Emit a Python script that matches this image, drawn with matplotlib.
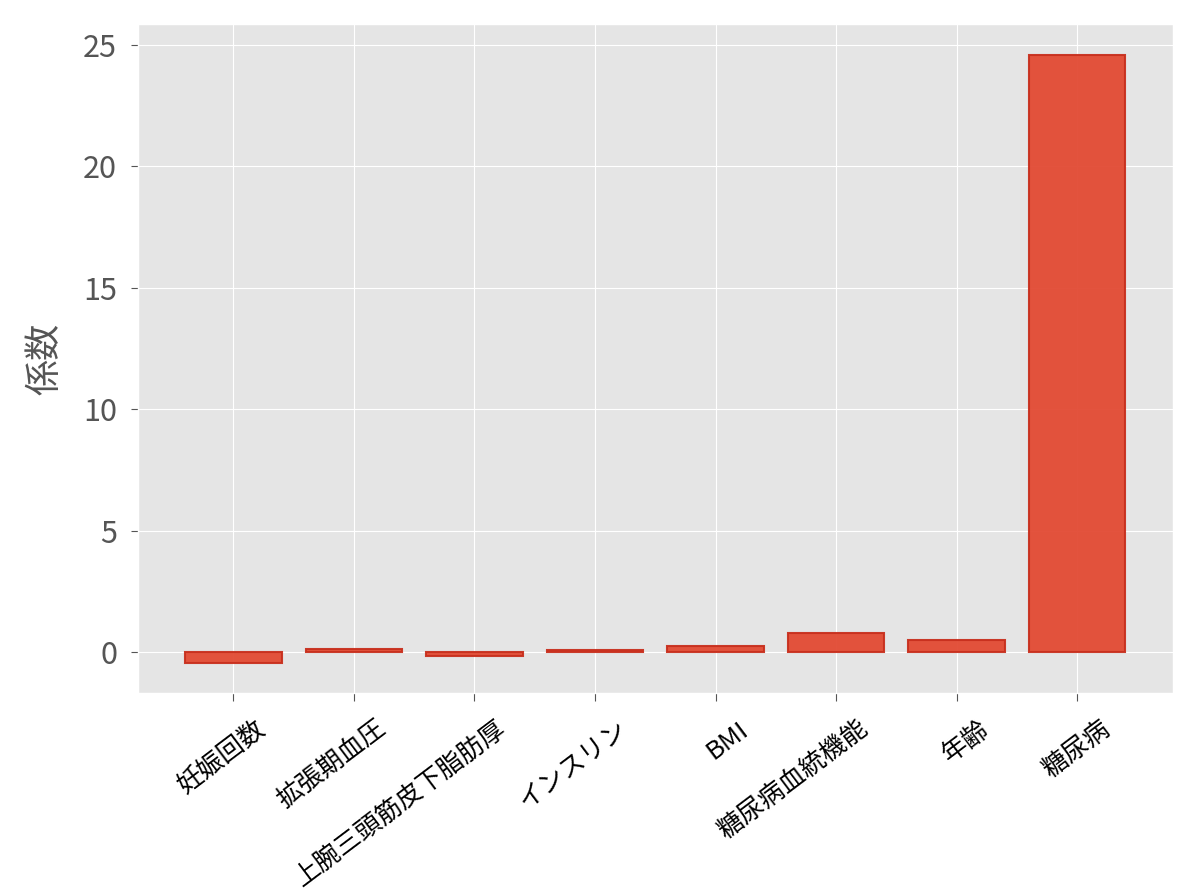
import matplotlib
matplotlib.use('Agg')
import matplotlib.pyplot as plt
import matplotlib.transforms as mtransforms
import numpy as np

plt.style.use('ggplot')
plt.rcParams['font.family'] = ['Noto Sans CJK JP', 'DejaVu Sans']

features = ['妊娠回数', '拡張期血圧', '上腕三頭筋皮下脂肪厚', 'インスリン', 'BMI',
            '糖尿病血統機能', '年齢', '糖尿病']
coefs = [-0.42, 0.13, -0.17, 0.10, 0.28, 0.78, 0.52, 24.6]

fig = plt.figure(figsize=(11.94, 8.96), dpi=100)
ax = fig.add_axes([0.1156, 0.2266, 0.8664, 0.7464])

x = np.arange(len(features))
ax.bar(x, coefs, width=0.8, color='#E24A33', edgecolor='#C8301E', linewidth=1.5, alpha=0.95)

ax.tick_params(axis='y', labelsize=22, colors='#555555', length=5, pad=10)
ax.tick_params(axis='x', length=6, color='#555555', labelcolor='black')
ax.set_ylabel('係数', fontsize=26, color='#555555', labelpad=14)

ax.set_xticks(x)
ax.set_xticklabels(features, rotation=37, ha='right', rotation_mode='anchor',
                   fontsize=18.5)
# nudge the rotated labels a bit right/down
shift = mtransforms.ScaledTranslation(22 / 100, -10 / 100, fig.dpi_scale_trans)
for lab in ax.get_xticklabels():
    lab.set_transform(lab.get_transform() + shift)

fig.savefig('out.png', dpi=100)
